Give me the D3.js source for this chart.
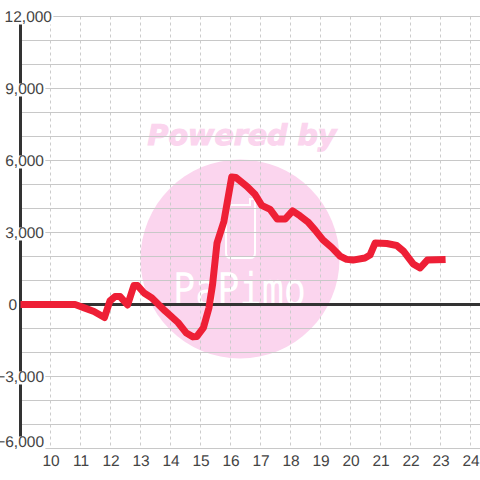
<!DOCTYPE html>
<html>
<head>
<meta charset="utf-8">
<style>
html,body{margin:0;padding:0;background:#fff;}
svg{display:block;}
text{font-family:"Liberation Sans",Arial,sans-serif;text-rendering:geometricPrecision;}
</style>
<script src="https://cdn.jsdelivr.net/npm/d3@7"></script>
</head>
<body>
<svg id="c" width="480" height="480"></svg>
<script>
const hours = [9,10.82,11.15,11.45,11.8,11.98,12.15,12.32,12.57,12.78,12.9,13.12,13.38,13.82,14.25,14.53,14.75,14.88,15.1,15.28,15.4,15.55,15.78,16.04,16.18,16.55,16.82,17.04,17.32,17.56,17.82,18.07,18.32,18.58,18.82,19.08,19.37,19.65,19.87,20.08,20.48,20.65,20.82,21.21,21.54,21.76,22.09,22.32,22.56,23.17];
const values = [0,0,-150,-290,-540,146,330,330,-20,790,790,480,270,-270,-750,-1190,-1350,-1330,-960,-150,810,2560,3460,5310,5290,4920,4580,4130,3960,3560,3560,3900,3690,3440,3100,2690,2380,2020,1880,1850,1940,2060,2560,2540,2460,2230,1690,1520,1850,1880];
const xTicks = [10,11,12,13,14,15,16,17,18,19,20,21,22,23,24];
const yLabelled = [12000,9000,6000,3000,0,-3000,-6000];
const yGrid = [12000,11000,10000,9000,8000,7000,6000,5000,4000,3000,2000,1000,-1000,-2000,-3000,-4000,-5000,-6000];

const svg = d3.select("#c");
const W = 480;
const x = d3.scaleLinear().domain([9,24]).range([20.5,470.5]);
const y = d3.scaleLinear().domain([-6000,12000]).range([448.5,16.5]);

// watermark
const wm = svg.append("g");
wm.append("circle").attr("cx",240).attr("cy",259).attr("r",99.5).attr("fill","#fbd5ee");
wm.append("text").attr("x",242).attr("y",145).attr("text-anchor","middle")
  .style("font-family","'DejaVu Sans'").style("font-weight","bold").style("font-style","italic")
  .style("font-size","28.5px").attr("fill","#fbd5ee").attr("stroke","#fbd5ee").attr("stroke-width",1.1).text("Powered by");
wm.append("path").attr("d","M231 205H250V199H255V253Q255 258 250 258H231Q226 258 226 253V210Q226 205 231 205Z")
  .attr("fill","none").attr("stroke","#fff").attr("stroke-width",2);
wm.append("text").attr("x",173).attr("y",305).attr("textLength",133).attr("lengthAdjust","spacingAndGlyphs")
  .style("font-family","'DejaVu Sans Mono'").style("font-size","45px")
  .attr("fill","#fff").text("PaPimo");

// grid
const grid = svg.append("g");
grid.selectAll("line.v").data(xTicks).join("line").attr("class","v")
  .attr("x1",d=>x(d)).attr("x2",d=>x(d)).attr("y1",y(12000)).attr("y2",y(-6000))
  .attr("stroke","#cccccc").attr("stroke-dasharray","3,3");
grid.selectAll("line.h").data(yGrid).join("line").attr("class","h")
  .attr("x1",20).attr("x2",W).attr("y1",d=>y(d)).attr("y2",d=>y(d))
  .attr("stroke","#c8c8c8").attr("stroke-width",1.2);

// axis lines
svg.append("line").attr("x1",20.5).attr("x2",20.5).attr("y1",24).attr("y2",448.5)
  .attr("stroke","#333").attr("stroke-width",3);
svg.append("line").attr("x1",20).attr("x2",W).attr("y1",y(0)).attr("y2",y(0))
  .attr("stroke","#333").attr("stroke-width",3);

// y tick labels with white plates
const labelRight = v => v===12000 ? 52 : v===0 ? 17 : 44;
const labelShift = v => v===-6000 ? -7 : 0;
const yAxis = d3.axisLeft(y).tickValues(yLabelled).tickSize(0).tickFormat(d3.format(","));
const yG = svg.append("g").call(yAxis);
yG.select(".domain").remove();
yG.selectAll(".tick").each(function(d){
  const g = d3.select(this);
  const t = g.select("text").attr("x",labelRight(d)).attr("dy",null).attr("y",labelShift(d)+5)
    .attr("text-anchor","end").attr("fill","#444").style("font-size","15.5px")
    .style("font-family","'Liberation Sans'");
  const b = t.node().getBBox();
  g.insert("rect","text").attr("x",b.x-1).attr("width",b.width+2)
    .attr("y",labelShift(d)-5.5).attr("height",13).attr("fill","#fff");
});

// x tick labels
const xAxis = d3.axisBottom(x).tickValues(xTicks).tickSize(0).tickFormat(d3.format("d"));
const xG = svg.append("g").attr("transform","translate(0,448.5)").call(xAxis);
xG.select(".domain").remove();
xG.selectAll("text").attr("y",17).attr("dy",null).attr("fill","#444").style("font-size","15.5px")
  .style("font-family","'Liberation Sans'");

// series
const line = d3.line().x((d,i)=>x(hours[i])).y(d=>y(d));
svg.append("path").attr("d",line(values)).attr("fill","none")
  .attr("stroke","#ee1f36").attr("stroke-width",7).attr("stroke-linejoin","round");
</script>
</body>
</html>
